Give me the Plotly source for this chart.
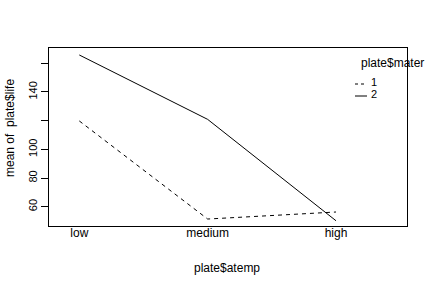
import plotly.graph_objects as go

atemp = ["low", "medium", "high"]
mater1 = [119.8, 51.4, 56.3]
mater2 = [165.8, 120.9, 50.2]
ytick_vals = [60, 80, 100, 120, 140, 160]
ytick_text = ["60", "80", "100", "", "140", ""]

FONT = "Liberation Sans, Arial, sans-serif"

W, H = 432, 288
L, R, T, B = 49, 25, 48, 62
pw = W - L - R
ph = H - T - B

def px(x):
    return (x - L) / pw

def py(y):
    return (H - B - y) / ph

fig = go.Figure()
fig.add_trace(go.Scatter(x=atemp, y=mater1, mode="lines",
                         line=dict(color="black", width=1, dash="4px,4px"),
                         name="1", showlegend=False))
fig.add_trace(go.Scatter(x=atemp, y=mater2, mode="lines",
                         line=dict(color="black", width=1),
                         name="2", showlegend=False))

fig.update_layout(
    width=W, height=H,
    margin=dict(l=L, r=R, t=T, b=B, pad=0),
    paper_bgcolor="white", plot_bgcolor="white",
    font=dict(family=FONT, size=12, color="black"),
    xaxis=dict(type="category", categoryorder="array", categoryarray=atemp,
               range=[-0.236, 2.553], showgrid=False, zeroline=False,
               showline=True, linecolor="black", linewidth=1, mirror=True,
               ticks="", tickfont=dict(size=12), ticklabelstandoff=-4),
    yaxis=dict(range=[46.54, 170.67], tickvals=ytick_vals, ticktext=ytick_text,
               showgrid=False, zeroline=False, showline=True, linecolor="black",
               linewidth=1, mirror=True, ticks="outside", ticklen=7,
               tickcolor="black", tickwidth=1, tickangle=-90,
               tickfont=dict(size=11)),
)

# axis titles
fig.add_annotation(text="plate$atemp", xref="paper", yref="paper",
                   x=px(227), y=py(268), showarrow=False,
                   xanchor="center", yanchor="middle", font=dict(size=12))
fig.add_annotation(text="mean of  plate$life", xref="paper", yref="paper",
                   x=px(10), y=py(128), showarrow=False, textangle=-90,
                   xanchor="center", yanchor="middle", font=dict(size=12))

# legend
fig.add_annotation(text="plate$mater", xref="paper", yref="paper",
                   x=px(359), y=py(63), showarrow=False,
                   xanchor="left", yanchor="middle", font=dict(size=12))
for lab, yy, dash in [("1", 82, "3px,3px"), ("2", 94, "solid")]:
    fig.add_shape(type="line", xref="paper", yref="paper",
                  x0=px(355), x1=px(367), y0=py(yy + 2), y1=py(yy + 2),
                  line=dict(color="black", width=1, dash=dash))
    fig.add_annotation(text=lab, xref="paper", yref="paper",
                       x=px(370), y=py(yy), showarrow=False,
                       xanchor="left", yanchor="middle", font=dict(size=11),
                       borderpad=0)

fig.write_html("out.html")
